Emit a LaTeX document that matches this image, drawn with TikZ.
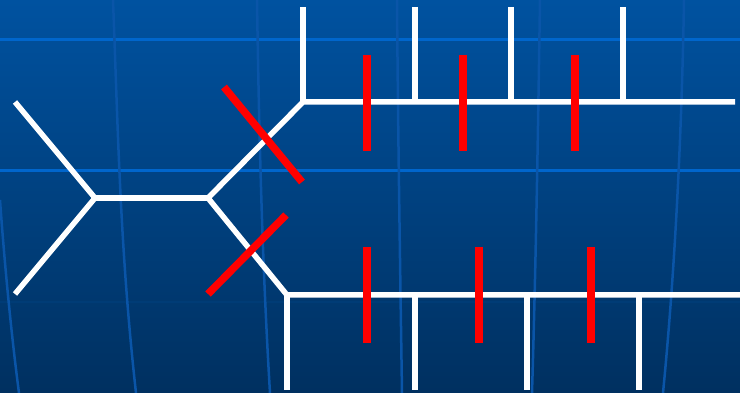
\documentclass[tikz,border=0pt]{standalone}
\begin{document}
\begin{tikzpicture}[x=1pt,y=-1pt,
  wl/.style={draw=white,line width=5.5pt,line cap=butt,line join=miter},
  rl/.style={draw=red,line width=7.5pt,line cap=butt},
  gridh/.style={draw={rgb,255:red,0;green,102;blue,204},line width=3pt},
  gridv/.style={draw={rgb,255:red,10;green,85;blue,168},line width=2.5pt},
]
\definecolor{bgtop}{RGB}{0,82,160}
\definecolor{bgbot}{RGB}{0,48,96}
\shade[top color=bgtop,bottom color=bgbot] (0,0) rectangle (740,393);
\useasboundingbox (0,0) rectangle (740,393);
% grid
\draw[gridh] (0,40) -- (740,40);
\draw[gridh] (0,171) -- (740,171);
\draw[draw={rgb,255:red,0;green,60;blue,118},line width=2pt] (0,302) -- (740,302);
\draw[gridv] (113,0) .. controls (118,130) and (120,250) .. (136,393);
\draw[gridv] (257,0) .. controls (259,130) and (262,260) .. (270,393);
\draw[gridv] (397,0) .. controls (398,130) and (400,260) .. (402,393);
\draw[gridv] (540,0) .. controls (538,130) and (536,260) .. (532,393);
\draw[gridv] (684,0) .. controls (682,120) and (676,260) .. (663,393);
\draw[gridv] (0,200) .. controls (5,270) and (12,340) .. (19,393);
% junctions
\coordinate (L) at (95,198);
\coordinate (R) at (208,198);
\coordinate (TL) at (15,102);
\coordinate (BL) at (15,294);
\coordinate (T) at (303,102);
\coordinate (B) at (287,295);
\coordinate (Te) at (735,102);
\coordinate (Be) at (740,295);
% white skeleton
\draw[wl] (TL) -- (L) -- (BL);
\draw[wl] (L) -- (R);
\draw[wl] (R) -- (T) -- (Te);
\draw[wl] (R) -- (B) -- (Be);
% upper verticals
\foreach \x/\n in {303/a,415/b,511/c,623/d}{
  \coordinate (u\n) at (\x,7);
  \coordinate (v\n) at (\x,102);
  \draw[wl] (u\n) -- (v\n);
}
% lower verticals
\foreach \x/\n in {287/a,415/b,527/c,639/d}{
  \coordinate (w\n) at (\x,295);
  \coordinate (z\n) at (\x,390);
  \draw[wl] (w\n) -- (z\n);
}
% red upper
\foreach \x/\n in {367/a,463/b,575/c}{
  \coordinate (ra\n) at (\x,55);
  \coordinate (rb\n) at (\x,151);
  \draw[rl] (ra\n) -- (rb\n);
}
% red lower
\foreach \x/\n in {367/a,479/b,591/c}{
  \coordinate (rc\n) at (\x,247);
  \coordinate (rd\n) at (\x,343);
  \draw[rl] (rc\n) -- (rd\n);
}
% red diagonals
\coordinate (d1) at (224,87);
\coordinate (d2) at (302,182);
\coordinate (d3) at (208,294);
\coordinate (d4) at (286,215);
\draw[rl] (d1) -- (d2);
\draw[rl] (d3) -- (d4);
\end{tikzpicture}
\end{document}
